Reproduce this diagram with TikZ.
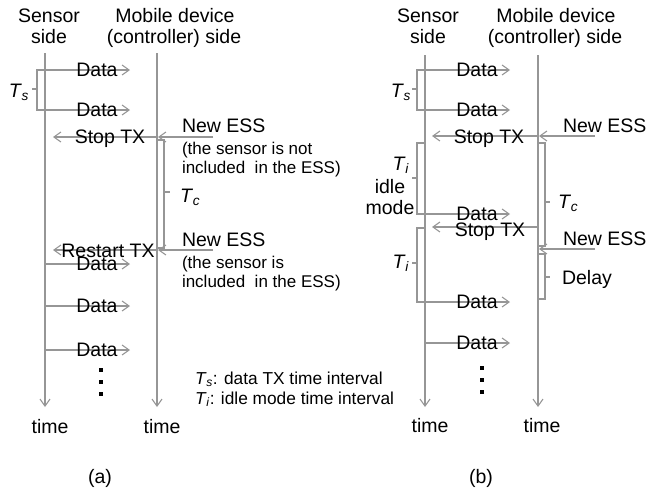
\documentclass[tikz,border=0pt]{standalone}
\usepackage{fontspec}
\setmainfont{Liberation Sans}
\usetikzlibrary{arrows.meta}
\definecolor{ln}{RGB}{150,150,150}
\newcommand{\Tsym}[1]{\textit{T}\kern-0.3pt\textsubscript{\textit{#1}}}
\begin{document}
\begin{tikzpicture}[x=1pt,y=-1pt,
  every node/.style={inner sep=0pt,outer sep=0pt,font=\fontsize{19.5}{22}\selectfont},
  lbl/.style={anchor=base},
  lblw/.style={anchor=base west},
  sml/.style={anchor=base west,font=\fontsize{17}{20}\selectfont},
  leg/.style={anchor=base west,font=\fontsize{17.3}{20}\selectfont},
  barb/.style={-{Straight Barb[length=7pt,width=10pt]}},
  tl/.style={draw=ln,line width=1.1pt,barb},
  msg/.style={draw=ln,line width=1.1pt,barb},
  brk/.style={draw=ln,line width=1.1pt},
  dotn/.style={fill=black,minimum size=3.6pt},
]
\useasboundingbox (0,0) rectangle (653,490);

% ================= panel (a) =================
\coordinate (as0) at (45,53);  \coordinate (as1) at (45,407);
\coordinate (am0) at (157,53); \coordinate (am1) at (157,407);
\draw[tl] (as0) -- (as1);
\draw[tl] (am0) -- (am1);
\node[lbl] (ah1) at (49,22) {Sensor};
\node[lbl] (ah2) at (49,43) {side};
\node[lbl] (ah3) at (175,22) {Mobile device};
\node[lbl] (ah4) at (174,43) {(controller) side};

% data messages
\foreach \i/\y in {1/70,2/110,3/264,4/306,5/350}{
  \coordinate (ad\i s) at (45,\y);
  \coordinate (ad\i e) at (130,\y);
  \draw[msg] (ad\i s) -- (ad\i e);
  \node[lbl] (ad\i) at (97,\y+6) {Data};
}
% Ts bracket
\coordinate (atsb) at (37,89); \coordinate (atst) at (32,89);
\draw[brk] (ad1s) -| (37,110) -- (ad2s);
\draw[brk] (atsb) -- (atst);
\node[lbl] (ats) at (19,97) {\Tsym{s}};

% stop TX
\coordinate (ast0) at (157,137); \coordinate (ast1) at (53,137);
\coordinate (ane0) at (213,137); \coordinate (ane1) at (158,137);
\draw[msg] (ast0) -- (ast1);
\draw[msg] (ane0) -- (ane1);
\node[lbl] (astt) at (110,143) {Stop TX};
\node[lblw] (anet) at (182,132) {New ESS};
\node[sml] (anet2) at (182,154) {(the sensor is not};
\node[sml] (anet3) at (182,173) {included \ in the ESS)};

% Tc bracket
\coordinate (atc0) at (157,140); \coordinate (atc1) at (157,248);
\draw[brk] (atc0) -| (164,248) -- (atc1);
\draw[brk] (164,192) -- (170,192);
\node[lblw] (atc) at (180,202) {\Tsym{c}};

% restart TX
\coordinate (ars0) at (157,250); \coordinate (ars1) at (53,250);
\coordinate (anf0) at (213,250); \coordinate (anf1) at (158,250);
\draw[msg] (ars0) -- (ars1);
\draw[msg] (anf0) -- (anf1);
\node[lbl] (arst) at (108,257) {Restart TX};
\node[lblw] (anft) at (182,246) {New ESS};
\node[sml] (anft2) at (182,268) {(the sensor is};
\node[sml] (anft3) at (182,287) {included \ in the ESS)};

% dots
\foreach \i/\y in {1/370,2/382,3/394}{\node[dotn] (adot\i) at (101,\y) {};}
\node[lbl] (atime1) at (50,433) {time};
\node[lbl] (atime2) at (162,433) {time};
\node[lbl] (acap) at (100,483) {(a)};

% legend
\node[leg] (leg1) at (195,384) {\Tsym{s}: data TX time interval};
\node[leg] (leg2) at (195,404) {\Tsym{i}: idle mode time interval};

% ================= panel (b) =================
\coordinate (bs0) at (425,55);  \coordinate (bs1) at (425,407);
\coordinate (bm0) at (538,55);  \coordinate (bm1) at (538,407);
\draw[tl] (bs0) -- (bs1);
\draw[tl] (bm0) -- (bm1);
\node[lbl] (bh1) at (428,22) {Sensor};
\node[lbl] (bh2) at (428,43) {side};
\node[lbl] (bh3) at (556,22) {Mobile device};
\node[lbl] (bh4) at (555,43) {(controller) side};

\foreach \i/\y in {1/70,2/110,3/214,4/302,5/343}{
  \coordinate (bd\i s) at (425,\y);
  \coordinate (bd\i e) at (510,\y);
  \draw[msg] (bd\i s) -- (bd\i e);
  \node[lbl] (bd\i) at (477,\y+6) {Data};
}
% Ts bracket
\draw[brk] (bd1s) -| (417,110) -- (bd2s);
\draw[brk] (417,89) -- (412,89);
\node[lbl] (bts) at (401,97) {\Tsym{s}};

% stop TX 1
\coordinate (bst0) at (538,136); \coordinate (bst1) at (432,136);
\coordinate (bne0) at (595,136); \coordinate (bne1) at (539,136);
\draw[msg] (bst0) -- (bst1);
\draw[msg] (bne0) -- (bne1);
\node[lbl] (bstt) at (489,143) {Stop TX};
\node[lblw] (bnet) at (563,132) {New ESS};

% Ti bracket 1
\coordinate (bti1a) at (425,143);
\draw[brk] (bti1a) -| (417,214) -- (bd3s);
\draw[brk] (417,178) -- (412,178);
\node[lbl] (bti1) at (401,170) {\Tsym{i}};
\node[lbl] (bidle) at (390,193) {idle};
\node[lbl] (bmode) at (390,214) {mode};

% stop TX 2
\coordinate (bsu0) at (538,227); \coordinate (bsu1) at (432,227);
\draw[msg] (bsu0) -- (bsu1);
\node[lbl] (bsut) at (490,236) {Stop TX};

% Ti bracket 2
\coordinate (bti2a) at (425,228);
\draw[brk] (bti2a) -| (417,302) -- (bd4s);
\draw[brk] (417,263) -- (412,263);
\node[lbl] (bti2) at (401,268) {\Tsym{i}};

% Tc bracket
\coordinate (btc0) at (538,143); \coordinate (btc1) at (538,246);
\draw[brk] (btc0) -| (545,246) -- (btc1);
\draw[brk] (545,202) -- (550,202);
\node[lblw] (btc) at (558,208) {\Tsym{c}};

% New ESS 2
\coordinate (bnf0) at (595,249); \coordinate (bnf1) at (539,249);
\draw[msg] (bnf0) -- (bnf1);
\node[lblw] (bnft) at (563,245) {New ESS};

% Delay bracket
\coordinate (bdl0) at (538,254); \coordinate (bdl1) at (538,299);
\draw[brk] (bdl0) -| (545,299) -- (bdl1);
\draw[brk] (545,277) -- (550,277);
\node[lblw] (bdelay) at (562,284) {Delay};

\foreach \i/\y in {1/368,2/380,3/392}{\node[dotn] (bdot\i) at (482,\y) {};}
\node[lbl] (btime1) at (430,432) {time};
\node[lbl] (btime2) at (542,432) {time};
\node[lbl] (bcap) at (481,483) {(b)};
\end{tikzpicture}
\end{document}
